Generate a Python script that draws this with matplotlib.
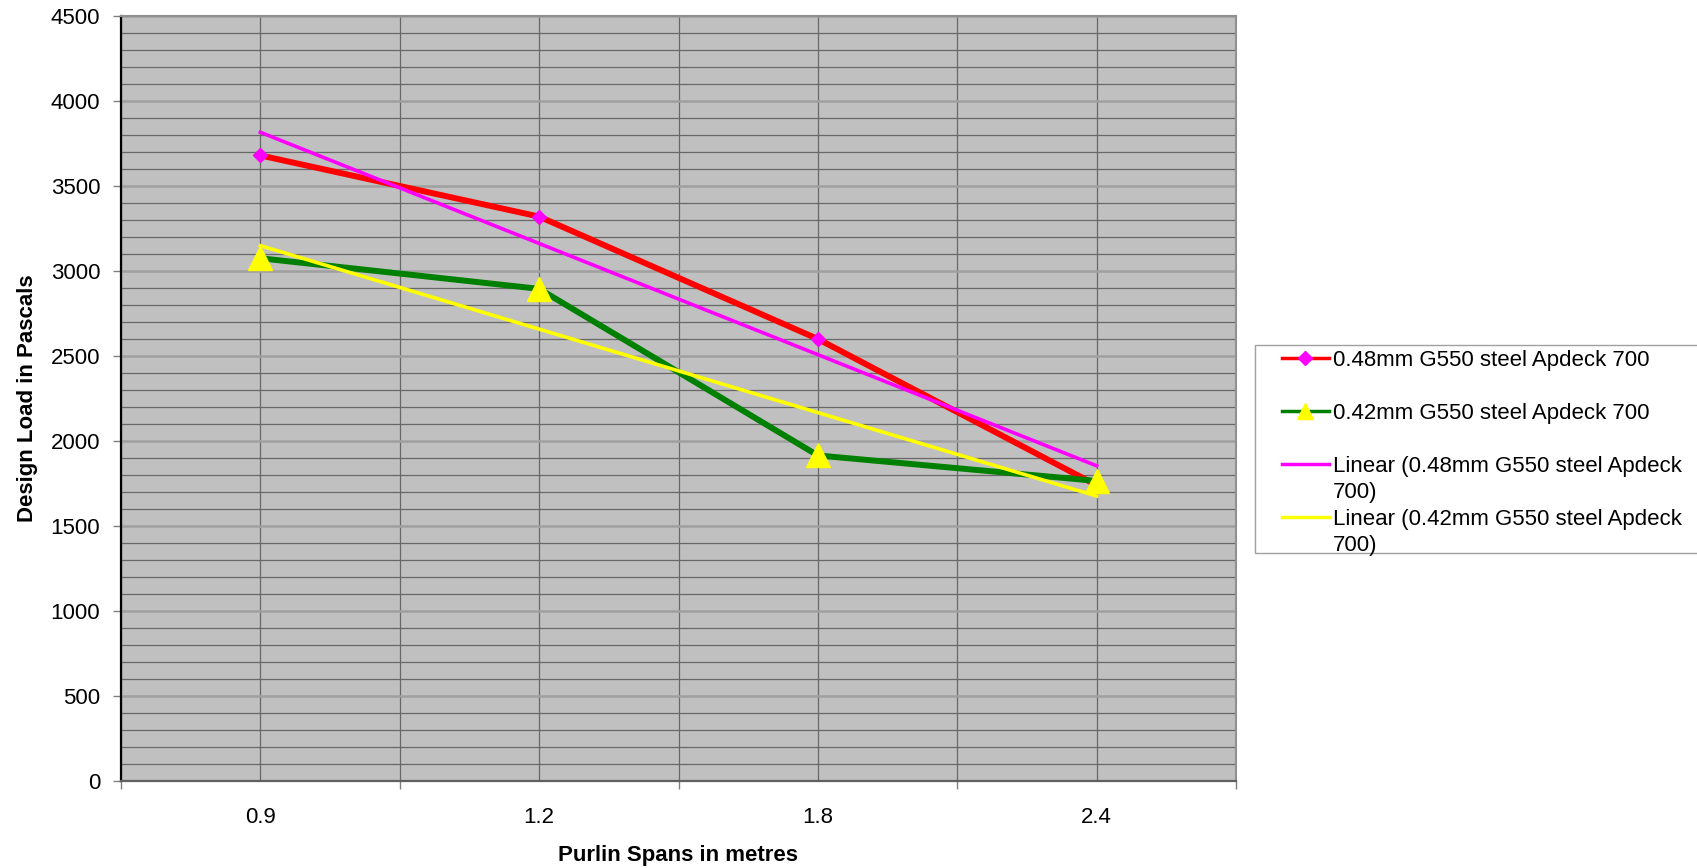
import numpy as np
import matplotlib
matplotlib.use("Agg")
import matplotlib.pyplot as plt
from matplotlib.ticker import MultipleLocator
from matplotlib.patches import Rectangle

plt.rcParams['font.family'] = ['Liberation Sans', 'DejaVu Sans']

categories = ["0.9", "1.2", "1.8", "2.4"]
load_048 = [3680, 3320, 2600, 1740]
load_042 = [3075, 2895, 1915, 1765]
labels = ["0.48mm G550 steel Apdeck 700\n ",
          "0.42mm G550 steel Apdeck 700\n ",
          "Linear (0.48mm G550 steel Apdeck\n700)",
          "Linear (0.42mm G550 steel Apdeck\n700)"]

W, H = 1697, 868
fig = plt.figure(figsize=(W / 100, H / 100), dpi=100)
ax = fig.add_axes([121 / W, 1 - 781 / H, (1236 - 121) / W, (781 - 16) / H])
ax.set_facecolor('#c0c0c0')

x = np.arange(len(categories))
idx = x + 1  # Excel trendline uses category index

l1, = ax.plot(x, load_048, color='#ff0000', lw=4.3, marker='D', markersize=7,
              markerfacecolor='#ff00ff', markeredgecolor='#ff00ff', zorder=3,
              solid_joinstyle='round')
l2, = ax.plot(x, load_042, color='#008000', lw=4.3, marker='^', markersize=17,
              markerfacecolor='#ffff00', markeredgecolor='#ffff00', zorder=3,
              solid_joinstyle='round')
p1 = np.polyfit(idx, load_048, 1)
p2 = np.polyfit(idx, load_042, 1)
l3, = ax.plot(x, np.polyval(p1, idx), color='#ff00ff', lw=2.6, zorder=4)
l4, = ax.plot(x, np.polyval(p2, idx), color='#ffff00', lw=2.6, zorder=4)

ax.set_xlim(-0.5, len(categories) - 0.5)
ax.set_ylim(0, 4500)
ax.set_xticks(x)
ax.set_xticklabels(categories)
ax.set_xticks(np.arange(-0.5, len(categories), 1.0), minor=True)
ax.yaxis.set_major_locator(MultipleLocator(500))
ax.yaxis.set_minor_locator(MultipleLocator(100))

ax.tick_params(axis='x', which='major', length=0, pad=19, labelsize=16)
ax.tick_params(axis='x', which='minor', length=6, width=1, color='#808080', direction='out')
ax.tick_params(axis='y', which='major', length=6, width=1, color='#808080', pad=9, labelsize=16)
ax.tick_params(axis='y', which='minor', length=0)

ax.yaxis.grid(True, which='minor', color='#686868', lw=0.9)
ax.yaxis.grid(True, which='major', color='#a0a0a0', lw=1.8)
ax.xaxis.grid(True, which='major', color='#686868', lw=0.9)
ax.xaxis.grid(True, which='minor', color='#686868', lw=0.9)
ax.set_axisbelow(True)

ax.spines['left'].set_color('#000000')
ax.spines['left'].set_linewidth(1.6)
ax.spines['bottom'].set_color('#606060')
ax.spines['bottom'].set_linewidth(1.6)
ax.spines['top'].set_color('#909090')
ax.spines['top'].set_linewidth(1.5)
ax.spines['right'].set_color('#909090')
ax.spines['right'].set_linewidth(1.5)

ax.set_xlabel("Purlin Spans in metres", fontsize=16, fontweight='bold', labelpad=12)
ax.set_ylabel("Design Load in Pascals", fontsize=16, fontweight='bold', labelpad=9)

# legend frame (Excel style, extends to figure edge)
fig.patches.append(Rectangle((1255 / W, 1 - 553 / H), (W + 5 - 1255) / W, (553 - 345) / H,
                             transform=fig.transFigure, facecolor='white',
                             edgecolor='#a0a0a0', lw=1.0, zorder=0))

leg = fig.legend([l1, l2, l3, l4], labels, loc='upper left',
                 bbox_to_anchor=(1282 / W, 1 - 350 / H),
                 fontsize=16, frameon=False, handlelength=2.1,
                 handletextpad=0.2, labelspacing=0.28, borderpad=0.0,
                 borderaxespad=0)
for t in leg.get_texts():
    t.set_linespacing(1.3)
for col in leg._legend_handle_box.get_children():
    for item in col.get_children():
        item.align = "top"
for h in leg.legend_handles:
    h.set_linewidth(2.5)
leg.legend_handles[1].set_markersize(12)

fig.savefig("out.png", dpi=100, facecolor='white')
